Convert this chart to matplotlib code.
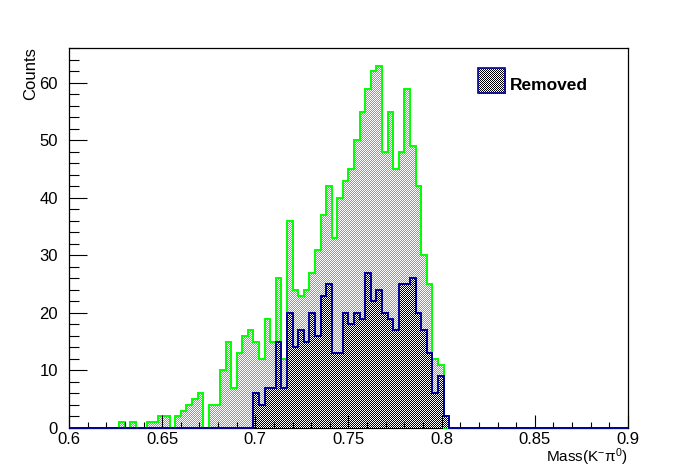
import numpy as np
import matplotlib
matplotlib.use("Agg")
import matplotlib.pyplot as plt
from matplotlib.image import FigureImage
from matplotlib.patches import Rectangle
from matplotlib.transforms import IdentityTransform

# histogram: 100 bins from 0.6 to 0.9
x_lo, x_hi, n_bins = 0.6, 0.9, 100

all_counts = [
    0, 0, 0, 0, 0, 0, 0, 0, 0, 1,
    0, 1, 0, 0, 1, 1, 2, 2, 0, 2,
    3, 4, 5, 6, 0, 4, 4, 10, 15, 7,
    13, 16, 17, 15, 12, 19, 15, 26, 12, 36,
    24, 23, 24, 27, 31, 37, 42, 33, 40, 43,
    45, 50, 55, 59, 62, 63, 48, 55, 45, 48,
    59, 49, 42, 30, 25, 12, 11, 0, 0, 0,
    0, 0, 0, 0, 0, 0, 0, 0, 0, 0,
    0, 0, 0, 0, 0, 0, 0, 0, 0, 0,
    0, 0, 0, 0, 0, 0, 0, 0, 0, 0,
]

removed_counts = [
    0, 0, 0, 0, 0, 0, 0, 0, 0, 0,
    0, 0, 0, 0, 0, 0, 0, 0, 0, 0,
    0, 0, 0, 0, 0, 0, 0, 0, 0, 0,
    0, 0, 0, 6, 4, 7, 7, 15, 7, 20,
    14, 17, 15, 20, 16, 23, 25, 13, 13, 20,
    18, 20, 19, 27, 22, 24, 20, 19, 17, 25,
    25, 26, 20, 17, 13, 6, 9, 2, 0, 0,
    0, 0, 0, 0, 0, 0, 0, 0, 0, 0,
    0, 0, 0, 0, 0, 0, 0, 0, 0, 0,
    0, 0, 0, 0, 0, 0, 0, 0, 0, 0,
]

x_ticks = [0.6, 0.65, 0.7, 0.75, 0.8, 0.85, 0.9]
x_tick_labels = ["0.6", "0.65", "0.7", "0.75", "0.8", "0.85", "0.9"]
y_ticks = [0, 10, 20, 30, 40, 50, 60]
legend_label = "Removed"

plt.rcParams["font.family"] = "Liberation Sans"
plt.rcParams["mathtext.fontset"] = "custom"
plt.rcParams["mathtext.rm"] = "Liberation Sans"
plt.rcParams["mathtext.it"] = "Liberation Sans:italic"
plt.rcParams["mathtext.bf"] = "Liberation Sans:bold"

W, H = 698, 476
GREEN = (0, 255, 0)
BLACK = (0, 0, 0)
LINE_BLUE = "#000099"


def checker(rgb, mask=None):
    # one pixel checkerboard, like the ROOT hatch fill
    img = np.full((H, W, 4), 255, dtype=np.uint8)
    yy, xx = np.mgrid[0:H, 0:W]
    on = (xx + yy) % 2 == 0
    img[on, :3] = rgb
    if mask is not None:
        img[..., 3] = np.where(mask, 255, 0)
    return img


fig = plt.figure(figsize=(W / 100, H / 100), dpi=100)
ax = fig.add_axes([69 / W, 48 / H, 559 / W, 380.4 / H])
edges = np.linspace(x_lo, x_hi, n_bins + 1)
ax.set_xlim(x_lo, x_hi)
ax.set_ylim(0, max(all_counts) * 1.05)


def pixel_mask(counts):
    # which figure pixels (row 0 = bottom) lie under the histogram
    inv = ax.transData.inverted()
    px = np.arange(W) + 0.5
    py = np.arange(H) + 0.5
    xd = inv.transform(np.column_stack([px, np.zeros(W)]))[:, 0]
    yd = inv.transform(np.column_stack([np.zeros(H), py]))[:, 1]
    idx = np.floor((xd - x_lo) / (x_hi - x_lo) * n_bins).astype(int)
    ok = (idx >= 0) & (idx < n_bins)
    h = np.where(ok, np.asarray(counts)[np.clip(idx, 0, n_bins - 1)], 0)
    return (yd[:, None] < h[None, :]) & (yd[:, None] > 0)


def hatched_hist(counts, rgb, line_color, z):
    im = FigureImage(fig, origin="lower")
    im.set_data(checker(rgb, pixel_mask(counts)))
    im.set_interpolation("nearest")
    im.set_transform(IdentityTransform())
    im.set_zorder(z)
    ax.add_artist(im)
    im.set_clip_on(False)
    ax.stairs(counts, edges, baseline=0, color=line_color, lw=1.4,
              zorder=z + 0.1, clip_on=False)


hatched_hist(all_counts, GREEN, "#00ff00", 1.0)
hatched_hist(removed_counts, BLACK, LINE_BLUE, 1.5)

for sp in ax.spines.values():
    sp.set_linewidth(0.9)
    sp.set_zorder(0.5)

ax.set_xticks(x_ticks)
ax.set_xticklabels(x_tick_labels)
ax.set_xticks(np.arange(0.6, 0.9001, 0.01), minor=True)
ax.set_yticks(y_ticks)
ax.set_yticks(np.arange(0, 67, 2), minor=True)
ax.tick_params(which="both", direction="in", top=False, right=False,
               width=0.8, labelsize=12, color="black")
ax.tick_params(axis="x", which="major", length=9.2, pad=3)
ax.tick_params(axis="x", which="minor", length=4.4)
ax.tick_params(axis="y", which="major", length=12.7, pad=8)
ax.tick_params(axis="y", which="minor", length=7.2)

fig.text(628 / W, 1 - 457 / H, "Mass(K$^{-}$π$^{0}$)", ha="right", va="center",
         fontsize=11)
fig.text(31 / W, 1 - 47 / H, "Counts", rotation=90, ha="center", va="top",
         fontsize=12)

# legend entry drawn by hand: checker swatch with blue border
swatch = Rectangle((478, H - 93), 27, 25, transform=IdentityTransform())
leg_im = fig.figimage(checker(BLACK), zorder=4)
leg_im.set_interpolation("nearest")
leg_im.set_clip_path(swatch)
fig.add_artist(Rectangle((478, H - 93), 27, 25, transform=IdentityTransform(),
                         fill=False, edgecolor=LINE_BLUE, lw=1.2, zorder=5))
fig.text(510 / W, 1 - 85 / H, legend_label, ha="left", va="center",
         fontsize=12.5, fontweight="bold")

fig.savefig("out.png", dpi=100)
